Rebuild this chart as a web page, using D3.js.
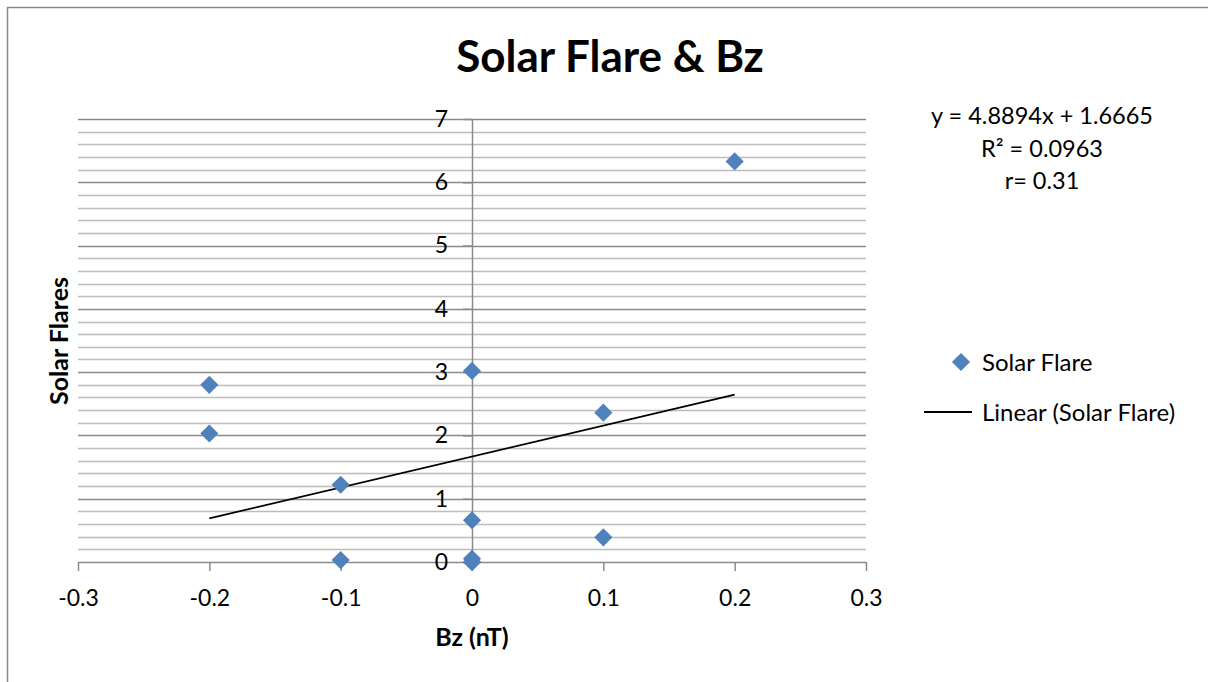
<!DOCTYPE html>
<html lang="en">
<head>
<meta charset="utf-8">
<title>Solar Flare &amp; Bz</title>
<style>
  html, body {margin: 0; padding: 0; background: #fff;}
  svg {display: block; font-family: Lato, "Open Sans", sans-serif;}
</style>
</head>
<body>
<div id="chart"></div>
<script src="https://cdnjs.cloudflare.com/ajax/libs/d3/7.8.5/d3.min.js"></script>
<script>
  // values
  var bzValues    = [-0.2, -0.2, -0.1, -0.1, 0, 0, 0, 0, 0, 0.1, 0.1, 0.2];
  var flareValues = [2.8, 2.03, 1.22, 0.03, 3.02, 0.66, 0.05, 0, 0, 2.36, 0.39, 6.33];
  var xTicks = [-0.3, -0.2, -0.1, 0, 0.1, 0.2, 0.3];
  var yTicks = [0, 1, 2, 3, 4, 5, 6, 7];
  var yMinorStep = 0.2;
  var trendSlope = 4.8894, trendIntercept = 1.6665;
  var trendRange = [-0.2, 0.2];
  var trendLabels = ['y = 4.8894x + 1.6665', 'R² = 0.0963', 'r= 0.31'];

  var W = 1208, H = 682;
  var plot = {left: 78, right: 866, top: 119, bottom: 562};
  var blue = '#4f81bd';

  var svg = d3.select('#chart').append('svg').attr('width', W).attr('height', H);

  // chart frame (only left & top edges visible)
  svg.append('path')
    .attr('d', 'M7.5,' + H + 'V7.5H' + W)
    .attr('fill', 'none').attr('stroke', '#898989').attr('stroke-width', 1.5);

  var x = d3.scaleLinear().domain([-0.3, 0.3]).range([plot.left, plot.right]);
  var y = d3.scaleLinear().domain([0, 7]).range([plot.bottom, plot.top]);

  // minor gridlines
  var minor = d3.range(0, 7 + 1e-9, yMinorStep).filter(function (v) {
    return Math.abs(v - Math.round(v)) > 1e-6;
  });
  svg.append('g').selectAll('line').data(minor).join('line')
    .attr('x1', plot.left).attr('x2', plot.right)
    .attr('y1', function (d) { return Math.round(y(d)) + 0.5; })
    .attr('y2', function (d) { return Math.round(y(d)) + 0.5; })
    .attr('stroke', '#bcbcbc').attr('stroke-width', 1.5);

  // major gridlines
  svg.append('g').selectAll('line').data(yTicks.slice(1)).join('line')
    .attr('x1', plot.left).attr('x2', plot.right)
    .attr('y1', function (d) { return Math.round(y(d)) + 0.5; })
    .attr('y2', function (d) { return Math.round(y(d)) + 0.5; })
    .attr('stroke', '#8a8a8a').attr('stroke-width', 1.5);

  // x axis at y = 0
  var xAxis = svg.append('g')
    .attr('transform', 'translate(0,' + y(0) + ')')
    .call(d3.axisBottom(x).tickValues(xTicks).tickSize(9).tickSizeOuter(0)
      .tickFormat(function (d) { return d === 0 ? '0' : d3.format('.1f')(d).replace('−', '-'); }));
  xAxis.select('.domain').attr('stroke', '#8a8a8a').attr('stroke-width', 1.5);
  xAxis.selectAll('.tick line').attr('stroke', '#8a8a8a').attr('stroke-width', 1.5);
  xAxis.selectAll('.tick text').attr('font-family', 'Lato, sans-serif')
    .attr('font-size', 23).attr('fill', '#000').attr('y', 28).attr('dy', '0.71em');

  // y axis at x = 0
  var yAxis = svg.append('g')
    .attr('transform', 'translate(' + x(0) + ',0)')
    .call(d3.axisLeft(y).tickValues(yTicks).tickSize(9).tickSizeOuter(0).tickFormat(d3.format('d')));
  yAxis.select('.domain').attr('stroke', '#8a8a8a').attr('stroke-width', 1.5);
  yAxis.selectAll('.tick line').attr('stroke', '#8a8a8a').attr('stroke-width', 1.5);
  yAxis.selectAll('.tick text').attr('font-family', 'Lato, sans-serif')
    .attr('font-size', 23).attr('fill', '#000').attr('x', -24);

  // trendline
  svg.append('line')
    .attr('x1', x(trendRange[0])).attr('y1', y(trendSlope * trendRange[0] + trendIntercept))
    .attr('x2', x(trendRange[1])).attr('y2', y(trendSlope * trendRange[1] + trendIntercept))
    .attr('stroke', '#000').attr('stroke-width', 1.8);

  // points
  var diamond = d3.symbol().type(d3.symbolSquare).size(165);
  svg.append('g').selectAll('path').data(bzValues).join('path')
    .attr('d', diamond)
    .attr('transform', function (d, i) {
      return 'translate(' + x(d) + ',' + y(flareValues[i]) + ') rotate(45)';
    })
    .attr('fill', blue);

  // title
  svg.append('text')
    .attr('x', 610).attr('y', 72).attr('text-anchor', 'middle')
    .attr('font-size', 44).attr('font-weight', 'bold')
    .text('Solar Flare & Bz');

  // axis titles
  svg.append('text')
    .attr('x', x(0)).attr('y', 646).attr('text-anchor', 'middle')
    .attr('font-size', 25).attr('font-weight', 'bold')
    .text('Bz (nT)');
  svg.append('text')
    .attr('transform', 'translate(68,' + 341 + ') rotate(-90)')
    .attr('text-anchor', 'middle')
    .attr('font-size', 25).attr('font-weight', 'bold')
    .text('Solar Flares');

  // trendline label
  svg.append('g').selectAll('text').data(trendLabels).join('text')
    .attr('x', 1042).attr('y', function (d, i) { return 124 + i * 32.5; })
    .attr('text-anchor', 'middle').attr('font-size', 23.5)
    .text(function (d) { return d; });

  // legend
  var legend = svg.append('g');
  legend.append('path')
    .attr('d', diamond)
    .attr('transform', 'translate(961,362) rotate(45)')
    .attr('fill', blue);
  legend.append('text').attr('x', 982).attr('y', 371).attr('font-size', 24).text('Solar Flare');
  legend.append('line')
    .attr('x1', 924).attr('x2', 972).attr('y1', 412).attr('y2', 412)
    .attr('stroke', '#000').attr('stroke-width', 1.8);
  legend.append('text').attr('x', 982).attr('y', 421).attr('font-size', 24).text('Linear (Solar Flare)');
</script>
</body>
</html>
